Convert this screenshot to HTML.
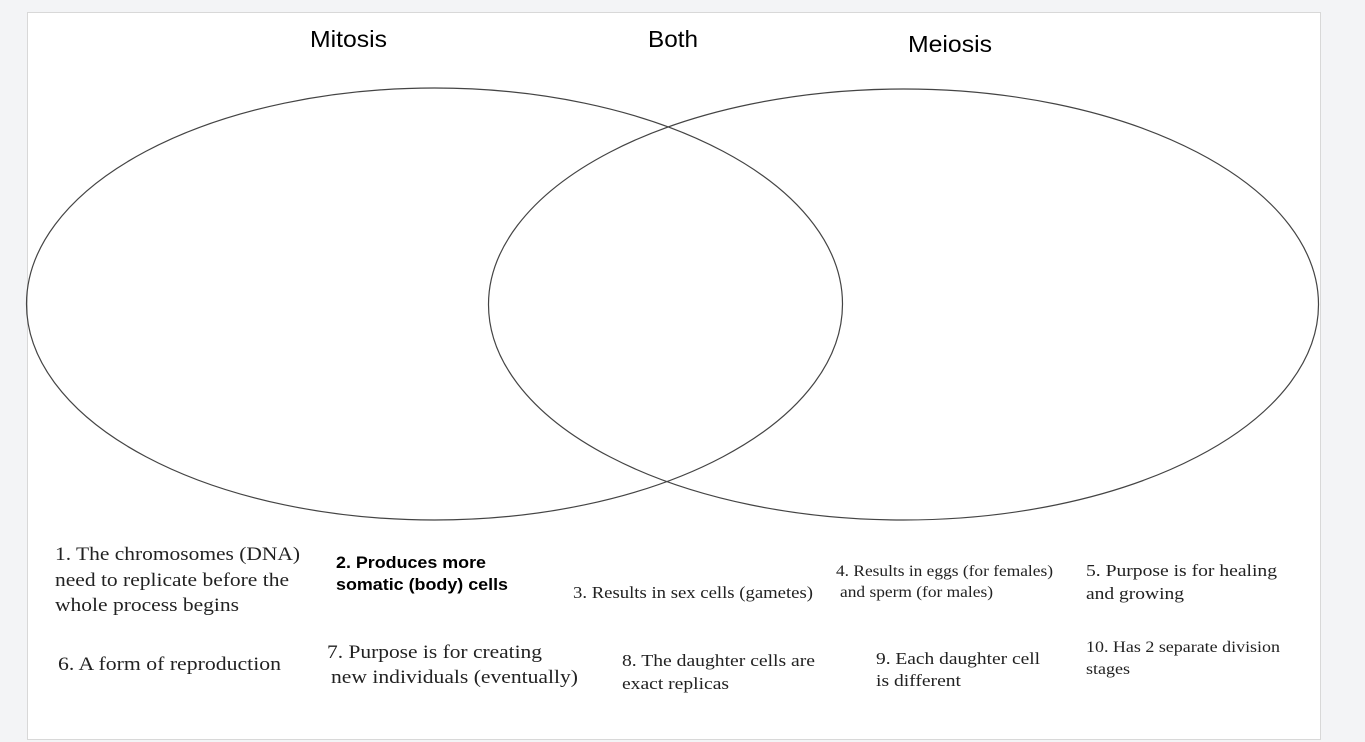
<!DOCTYPE html>
<html><head><style>
body{margin:0;background:#f3f4f6;width:1365px;height:742px;overflow:hidden}
svg{position:absolute;left:0;top:0}
.s{font-family:"Liberation Serif",serif;fill:#222}
.a{font-family:"Liberation Sans",sans-serif;fill:#000}
</style></head><body>
<svg width="1365" height="742">
<rect x="27.5" y="12.5" width="1293" height="727" fill="#fff" stroke="#d8d8d8"/>
<ellipse cx="434.5" cy="304" rx="408" ry="216" fill="none" stroke="#444" stroke-width="1.2"/>
<ellipse cx="903.5" cy="304.5" rx="415" ry="215.5" fill="none" stroke="#444" stroke-width="1.2"/>
<text class="a" x="310" y="47" font-size="23" textLength="77" lengthAdjust="spacingAndGlyphs">Mitosis</text>
<text class="a" x="648" y="47" font-size="23" textLength="50" lengthAdjust="spacingAndGlyphs">Both</text>
<text class="a" x="908" y="52" font-size="23" textLength="84" lengthAdjust="spacingAndGlyphs">Meiosis</text>
<g class="s" font-size="19" lengthAdjust="spacingAndGlyphs">
<text x="55" y="560" textLength="245" lengthAdjust="spacingAndGlyphs">1. The chromosomes (DNA)</text>
<text x="55" y="586" textLength="234" lengthAdjust="spacingAndGlyphs">need to replicate before the</text>
<text x="55" y="611" textLength="184" lengthAdjust="spacingAndGlyphs">whole process begins</text>
<text x="58" y="670" textLength="223" lengthAdjust="spacingAndGlyphs">6. A form of reproduction</text>
<text x="327" y="658" textLength="215" lengthAdjust="spacingAndGlyphs">7. Purpose is for creating</text>
<text x="331" y="683" textLength="247" lengthAdjust="spacingAndGlyphs">new individuals (eventually)</text>
</g>
<g class="a" font-size="16.5" font-weight="bold">
<text x="336" y="568" textLength="150" lengthAdjust="spacingAndGlyphs">2. Produces more</text>
<text x="336" y="590" textLength="172" lengthAdjust="spacingAndGlyphs">somatic (body) cells</text>
</g>
<g class="s" font-size="17">
<text x="573" y="598" textLength="240" lengthAdjust="spacingAndGlyphs">3. Results in sex cells (gametes)</text>
<text x="622" y="666" textLength="193" lengthAdjust="spacingAndGlyphs">8. The daughter cells are</text>
<text x="622" y="689" textLength="107" lengthAdjust="spacingAndGlyphs">exact replicas</text>
<text x="876" y="664" textLength="164" lengthAdjust="spacingAndGlyphs">9. Each daughter cell</text>
<text x="876" y="686" textLength="85" lengthAdjust="spacingAndGlyphs">is different</text>
<text x="1086" y="576" textLength="191" lengthAdjust="spacingAndGlyphs">5. Purpose is for healing</text>
<text x="1086" y="599" textLength="98" lengthAdjust="spacingAndGlyphs">and growing</text>
</g>
<g class="s" font-size="15.5">
<text x="836" y="576" textLength="217" lengthAdjust="spacingAndGlyphs">4. Results in eggs (for females)</text>
<text x="840" y="597" textLength="153" lengthAdjust="spacingAndGlyphs">and sperm (for males)</text>
<text x="1086" y="652" textLength="194" lengthAdjust="spacingAndGlyphs">10. Has 2 separate division</text>
<text x="1086" y="674" textLength="44" lengthAdjust="spacingAndGlyphs">stages</text>
</g>
</svg>
</body></html>
